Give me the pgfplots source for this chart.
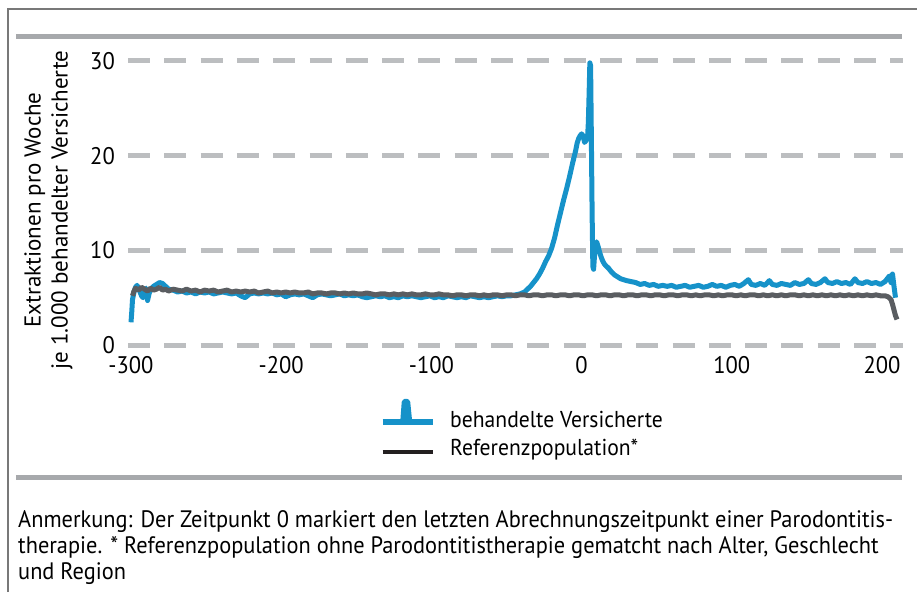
\documentclass[border=0pt]{standalone}
\usepackage{fontspec}
\setmainfont{PT Sans}
\newfontfamily\condfont{PT Sans}[FakeStretch=0.94]
\usepackage{pgfplots}
\pgfplotsset{compat=1.18}
\definecolor{bl}{RGB}{22,146,201}
\definecolor{refgray}{RGB}{90,93,97}
\definecolor{legblack}{RGB}{35,31,32}
\definecolor{gridgray}{RGB}{188,190,192}
\definecolor{rulegray}{RGB}{167,169,172}
\definecolor{framegray}{RGB}{120,120,120}
\pgfplotstableread{
x y
-299 5.2
-298 5.7
-297 6.0
-295 5.8
-293 6.1
-291 5.9
-289 5.7
-287 6.0
-285 5.8
-283 5.9
-281 6.1
-279 5.8
-277 5.9
-275 5.7
-272 5.9
-269 5.8
-266 5.7
-263 5.9
-260 5.7
-257 5.8
-254 5.6
-251 5.8
-248 5.7
-245 5.8
-242 5.6
-239 5.7
-236 5.8
-233 5.6
-230 5.7
-227 5.6
-224 5.7
-221 5.6
-218 5.7
-215 5.5
-212 5.6
-209 5.7
-206 5.5
-203 5.6
-200 5.5
-197 5.6
-194 5.5
-191 5.6
-188 5.5
-185 5.5
-182 5.6
-179 5.4
-176 5.5
-173 5.5
-170 5.4
-167 5.5
-164 5.5
-161 5.4
-158 5.5
-155 5.4
-152 5.5
-149 5.4
-146 5.4
-143 5.5
-140 5.4
-137 5.3
-134 5.4
-131 5.4
-128 5.3
-125 5.4
-122 5.3
-119 5.4
-116 5.3
-113 5.4
-110 5.3
-107 5.3
-104 5.4
-101 5.3
-98 5.3
-95 5.4
-92 5.3
-89 5.3
-86 5.2
-83 5.3
-80 5.3
-77 5.2
-74 5.3
-71 5.3
-68 5.2
-65 5.3
-62 5.2
-59 5.3
-56 5.3
-53 5.2
-50 5.3
-47 5.3
-44 5.2
-41 5.3
-38 5.3
-35 5.2
-32 5.3
-29 5.3
-26 5.2
-23 5.3
-20 5.3
-17 5.2
-14 5.3
-11 5.3
-8 5.2
-5 5.3
-2 5.3
1 5.2
4 5.3
7 5.3
10 5.2
13 5.3
16 5.3
19 5.2
22 5.3
25 5.3
28 5.2
31 5.3
34 5.3
37 5.2
40 5.3
43 5.3
46 5.2
49 5.3
52 5.3
55 5.2
58 5.3
61 5.3
64 5.2
67 5.3
70 5.3
73 5.2
76 5.3
79 5.2
82 5.3
85 5.3
88 5.2
91 5.3
94 5.2
97 5.3
100 5.3
103 5.2
106 5.3
109 5.2
112 5.3
115 5.3
118 5.2
121 5.3
124 5.2
127 5.3
130 5.2
133 5.3
136 5.2
139 5.3
142 5.3
145 5.2
148 5.3
151 5.2
154 5.3
157 5.2
160 5.3
163 5.2
166 5.3
169 5.2
172 5.3
175 5.2
178 5.3
181 5.2
184 5.3
187 5.2
190 5.3
193 5.2
196 5.3
199 5.2
202 5.2
204 5.1
206 4.8
207 4.3
208 3.7
209 3.1
210 2.7
}\refdata
\pgfplotstableread{
x y
-300 2.4
-299.5 3.5
-299 4.8
-298 5.6
-297 6.1
-296 6.3
-295 6.0
-294 5.6
-293 5.2
-292 5.0
-291 5.5
-290 6.0
-289 4.7
-288 5.4
-287 5.9
-285 6.2
-283 6.4
-281 6.6
-279 6.5
-277 6.2
-275 5.9
-272 5.8
-269 5.6
-266 5.7
-263 5.5
-260 5.6
-257 5.4
-254 5.6
-251 5.5
-248 5.6
-245 5.4
-242 5.5
-239 5.6
-236 5.5
-233 5.4
-230 5.5
-227 5.2
-224 5.0
-221 5.4
-218 5.5
-215 5.4
-212 5.5
-209 5.4
-206 5.5
-203 5.3
-200 5.4
-197 5.1
-194 5.3
-191 5.4
-188 5.3
-185 5.4
-182 5.2
-179 5.0
-176 5.3
-173 5.4
-170 5.3
-167 5.2
-164 5.3
-161 5.4
-158 5.2
-155 5.3
-152 5.2
-149 5.3
-146 5.1
-143 5.0
-140 5.1
-137 5.2
-134 5.1
-131 5.2
-128 5.0
-125 5.1
-122 5.0
-119 5.2
-116 5.1
-113 5.2
-110 5.1
-107 5.0
-104 5.1
-101 5.2
-98 5.0
-95 5.1
-92 5.0
-89 5.2
-86 5.1
-83 5.0
-80 5.1
-77 5.0
-74 5.2
-71 5.1
-68 5.0
-65 5.1
-62 5.0
-59 5.1
-56 5.2
-53 5.1
-50 5.2
-47 5.2
-44 5.3
-41 5.4
-38 5.6
-36 5.9
-34 6.2
-32 6.6
-30 7.0
-28 7.5
-26 8.1
-24 8.8
-22 9.4
-20 10.2
-18 11.3
-16 12.7
-14 14.0
-12 15.3
-10 16.5
-8 17.8
-6 19.2
-4 20.5
-3 21.3
-2 21.8
-1 22.1
0 22.3
1 22.1
2 21.4
3 21.6
4 22.0
4.5 23.5
5 26.5
5.5 29.8
6 29.5
6.5 22.0
7 14.0
7.5 8.3
8 8.0
8.5 9.2
9 10.4
10 10.9
11 10.4
12 9.8
13 9.3
14 8.9
15 8.6
16 8.4
18 8.1
20 7.7
22 7.4
24 7.2
26 7.0
28 6.9
30 6.8
33 6.7
36 6.6
39 6.4
42 6.5
45 6.3
48 6.4
51 6.2
54 6.3
57 6.2
60 6.3
63 6.1
66 6.2
69 6.3
72 6.1
75 6.2
78 6.3
81 6.1
84 6.2
87 6.4
90 6.2
93 6.3
96 6.1
99 6.3
102 6.4
105 6.2
108 6.5
111 6.9
113 6.4
116 6.3
119 6.5
122 6.3
125 6.8
127 6.4
130 6.3
133 6.5
136 6.4
139 6.3
142 6.6
145 6.4
148 6.5
151 6.9
153 6.5
156 6.4
159 6.6
162 7.0
164 6.6
167 6.5
170 6.7
173 6.5
176 6.6
179 6.4
182 7.0
184 6.6
187 6.5
190 6.7
193 6.5
196 6.6
199 6.4
202 6.7
205 7.3
206 6.6
207 7.5
208 6.2
209 5.0
}\treatdata
\begin{document}
\begin{tikzpicture}[x=1pt,y=1pt]
\path[use as bounding box] (-128,354.5) rectangle (789,-237.5);
\draw[framegray, line width=1.5pt] (-120,-237.5) -- (-120,345.5) -- (789,345.5);
\draw[rulegray, line width=5pt] (-112,317.5) -- (774,317.5);
\draw[rulegray, line width=5pt] (-112,-122.5) -- (774,-122.5);
\begin{axis}[
  scale only axis, width=775pt, height=303pt,
  xmin=-302, xmax=214, ymin=-1, ymax=31,
  axis line style={draw=none},
  major tick length=0pt,
  xtick={-300,-200,-100,0,100,200},
  xticklabels={-300,-200,-100,0,100,200},
  ytick={0,10,20,30},
  /pgf/number format/assume math mode=true,
  ticklabel style={font=\condfont\fontsize{24}{28}\selectfont, text=black},
  xticklabel style={anchor=north, inner sep=0pt, yshift=-2pt},
  yticklabel style={anchor=east, inner sep=0pt, xshift=-13pt},
  ymajorgrids,
  major grid style={gridgray, line width=5pt, dash pattern=on 22pt off 14.3pt},
  ylabel={Extraktionen pro Woche\\je 1.000 behandelter Versicherte},
  ylabel style={at={(axis description cs:-0.1026,0.477)}, anchor=center, align=center,
    font=\fontsize{23}{27}\selectfont, inner sep=0pt},
  legend style={draw=none, fill=none, at={(axis description cs:0.3252,-0.1436)},
    anchor=north west, font=\condfont\fontsize{23}{27}\selectfont,
    row sep=6pt, column sep=13pt, inner sep=0pt},
  legend cell align=left,
]
\addplot[bl, line width=5pt, line join=round,
  legend image code/.code={
    \draw[bl, line width=5pt] (0pt,-2pt) -- (50pt,-2pt);
    \fill[bl] (20pt,-2pt) -- (21.5pt,18pt) to[out=70,in=110] (25pt,18pt) -- (27pt,-2pt) -- cycle;
  }] table[x=x,y=y] {\treatdata};
\addlegendentry{behandelte Versicherte}
\addplot[refgray, line width=5pt, line join=round,
  legend image code/.code={
    \draw[legblack, line width=4pt] (0pt,-4pt) -- (50pt,-4pt);
  }] table[x=x,y=y] {\refdata};
\addlegendentry{Referenzpopulation*}
\end{axis}
\begin{scope}[every node/.style={anchor=base west, inner sep=0pt, font=\condfont\fontsize{23.8}{26}\selectfont}]
\node at (-110,-172.5) {Anmerkung: Der Zeitpunkt 0 markiert den letzten Abrechnungszeitpunkt einer Parodontitis-};
\node at (-110,-198.5) {therapie. * Referenzpopulation ohne Parodontitistherapie gematcht nach Alter, Geschlecht};
\node at (-110,-224.5) {und Region};
\end{scope}
\end{tikzpicture}
\end{document}
